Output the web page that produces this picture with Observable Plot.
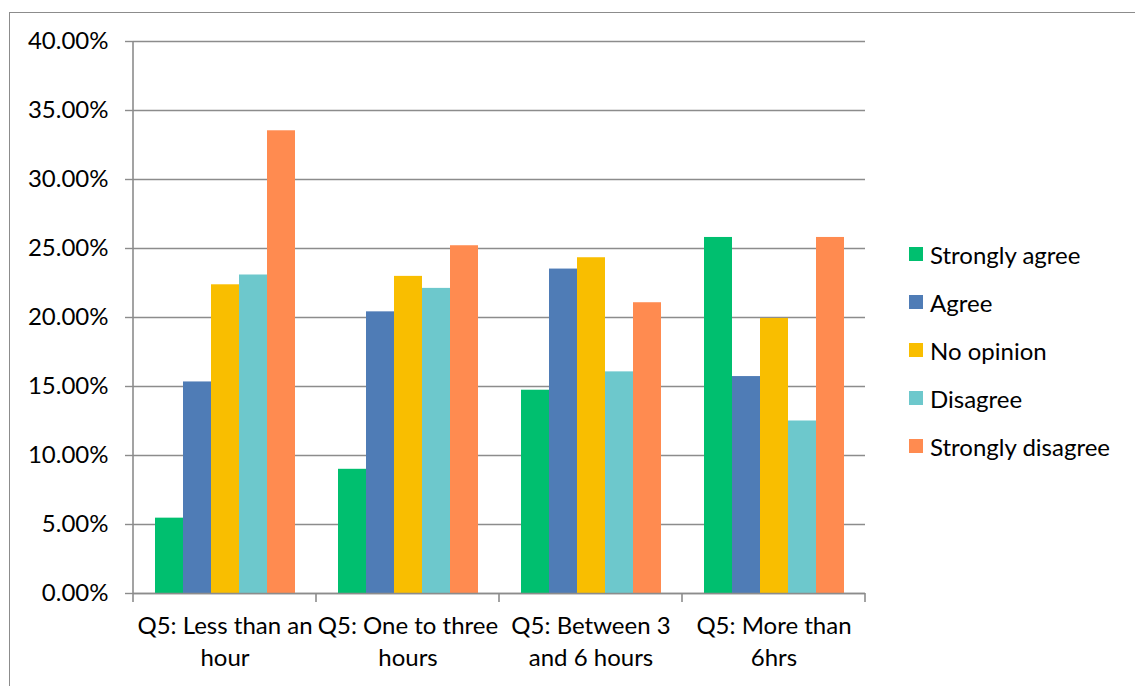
<!DOCTYPE html>
<html>
<head>
<meta charset="utf-8">
<script src="https://cdn.jsdelivr.net/npm/d3@7"></script>
<script src="https://cdn.jsdelivr.net/npm/@observablehq/plot@0.6"></script>
<style>
  body { margin: 0; background: #fff; }
  #wrap { position: relative; width: 1135px; height: 686px; overflow: hidden; font-family: Lato, "Liberation Sans", sans-serif; color: #000; }
  #border { position: absolute; left: 9px; top: 12px; width: 1140px; height: 700px; border: 1px solid #8c8c8c; box-sizing: border-box; }
  #chart { position: absolute; left: 0; top: 0; }
  #legend { position: absolute; left: 909px; top: 230px; }
  .row { display: flex; align-items: center; height: 48px; font-size: 24px; }
  .sw { width: 14px; height: 14px; margin-right: 7px; flex: none; }
</style>
</head>
<body>
<div id="wrap">
  <div id="border"></div>
  <div id="chart"></div>
  <div id="legend"></div>
</div>
<script>
// Survey question 5: time spent, by level of agreement (share of responses)
const categories = ["Q5: Less than an hour", "Q5: One to three hours", "Q5: Between 3 and 6 hours", "Q5: More than 6hrs"];
const categoryLabels = ["Q5: Less than an\nhour", "Q5: One to three\nhours", "Q5: Between 3\nand 6 hours", "Q5: More than\n6hrs"];
const series = ["Strongly agree", "Agree", "No opinion", "Disagree", "Strongly disagree"];
const colors = ["#00bf6f", "#4f7cb6", "#f9be00", "#6dc8cc", "#ff8b50"];

const stronglyAgree    = [0.0546, 0.0900, 0.1473, 0.2580];
const agree            = [0.1533, 0.2041, 0.2351, 0.1572];
const noOpinion        = [0.2237, 0.2298, 0.2433, 0.1993];
const disagree         = [0.2308, 0.2211, 0.1606, 0.1250];
const stronglyDisagree = [0.3353, 0.2520, 0.2107, 0.2580];

const yTicks = [0, 0.05, 0.10, 0.15, 0.20, 0.25, 0.30, 0.35, 0.40];

const seriesValues = [stronglyAgree, agree, noOpinion, disagree, stronglyDisagree];
const rows = [];
categories.forEach((c, i) => {
  series.forEach((s, j) => rows.push({category: c, series: s, value: seriesValues[j][i]}));
});

const gridColor = "#8c8c8c";
const font = 'Lato, "Liberation Sans", sans-serif';

const chart = Plot.plot({
  width: 1135,
  height: 686,
  marginLeft: 132,
  marginRight: 269,
  marginTop: 41,
  marginBottom: 93,
  style: { fontFamily: font, fontSize: "24px", color: "#000", background: "transparent" },
  fx: { domain: categories, padding: 0, label: null },
  x: { domain: series, paddingInner: 0, paddingOuter: 0.765, axis: null },
  y: { domain: [0, 0.40], label: null },
  color: { domain: series, range: colors },
  marks: [
    Plot.gridY(yTicks, { stroke: gridColor, strokeOpacity: 1, strokeWidth: 1.4 }),
    Plot.barY(rows, { fx: "category", x: "series", y: "value", fill: "series", inset: 0 }),
    Plot.ruleY([0], { stroke: gridColor, strokeWidth: 1.6 }),
    Plot.axisY(yTicks, {
      tickFormat: d => (d * 100).toFixed(2) + "%",
      tickSize: 8, tickPadding: 17, fontSize: 24, stroke: gridColor, strokeWidth: 1.4, fill: "#000", label: null
    }),
    Plot.axisFx({
      anchor: "bottom", tickSize: 0, tickPadding: 18, fontSize: 24, lineHeight: 1.34, fill: "#000",
      tickFormat: d => categoryLabels[categories.indexOf(d)], label: null
    })
  ]
});

// Vertical axis line and category boundary ticks, placed with the chart's own scales
const fx = chart.scale("fx");
const y = chart.scale("y");
const svg = d3.select(chart);
const y0 = y.apply(0);
const bounds = categories.map(c => fx.apply(c)).concat([fx.apply(categories[categories.length - 1]) + fx.bandwidth]);
svg.append("line")
  .attr("x1", bounds[0]).attr("x2", bounds[0])
  .attr("y1", y.apply(0.40)).attr("y2", y0)
  .attr("stroke", gridColor).attr("stroke-width", 1.6);
svg.selectAll("line.bound").data(bounds).join("line")
  .attr("class", "bound")
  .attr("x1", d => d).attr("x2", d => d)
  .attr("y1", y0).attr("y2", y0 + 9)
  .attr("stroke", gridColor).attr("stroke-width", 1.6);

document.getElementById("chart").appendChild(chart);

// Legend
const legend = d3.select("#legend");
series.forEach((s, i) => {
  const row = legend.append("div").attr("class", "row");
  row.append("div").attr("class", "sw").style("background", colors[i]);
  row.append("span").text(s);
});
</script>
</body>
</html>
